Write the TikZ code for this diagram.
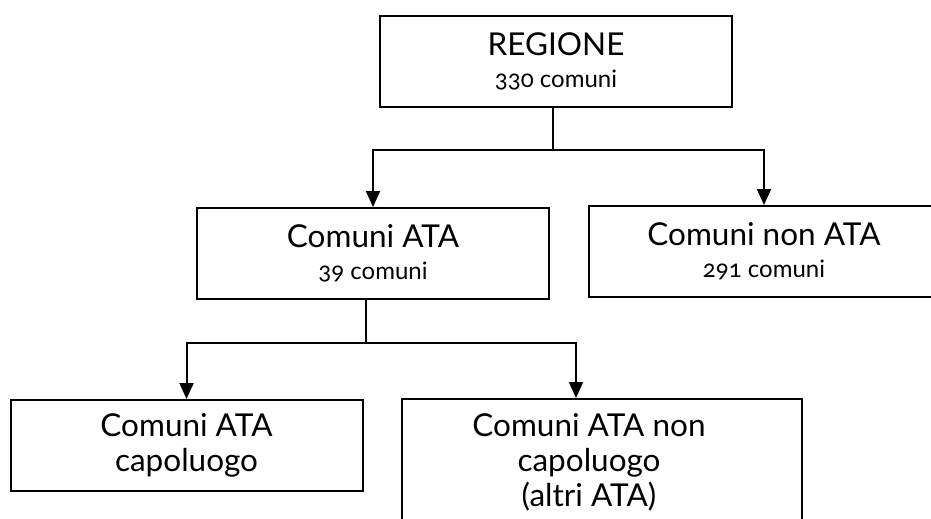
\documentclass[tikz,border=0pt]{standalone}
\usepackage{fontspec}
\setmainfont{Lato}[Numbers=OldStyle]
\usepackage{tikz}
\usetikzlibrary{arrows.meta}

\tikzset{
  box/.style={draw, line width=2pt, align=center, inner sep=0pt,
    minimum width=352pt, minimum height=91pt,
    font=\fontsize{31.5}{35}\selectfont},
  arr/.style={line width=2pt, -{Triangle[width=14pt,length=16pt]}}
}
\newcommand{\smalltxt}[1]{{\fontsize{24}{28}\selectfont #1}}

\begin{document}
\begin{tikzpicture}[x=1pt,y=-1pt]
  \useasboundingbox (0,0) rectangle (931,519);
  \clip (0,0) rectangle (931,519);
  % boxes
  \node[box] (reg) at (556,61.5) {REGIONE\\[-3pt]\smalltxt{330 comuni}};
  \node[box] (ata) at (373,253.5) {Comuni ATA\\[-3pt]\smalltxt{39 comuni}};
  \node[box, minimum width=350pt] (nonata) at (764,251.5) {Comuni non ATA\\[-3pt]\smalltxt{291 comuni}};
  \node[box] (capo) at (186.5,445.5) {Comuni ATA\\capoluogo};
  \node[box, minimum width=400pt, minimum height=150pt] (noncapo) at (602,474) {};
  \node[box, draw=none, minimum width=0pt, minimum height=0pt, anchor=north] (noncapotxt)
    at (589,413) {Comuni ATA non\\capoluogo\\(altri ATA)};
  % connectors
  \coordinate (j1) at (553,150);
  \coordinate (j2) at (366,343);
  \draw[line width=2pt] (reg.south -| j1) -- (j1);
  \draw[arr] (j1) -| (ata.north);
  \draw[arr] (j1) -| (nonata.north);
  \draw[line width=2pt] (ata.south -| j2) -- (j2);
  \draw[arr] (j2) -| (capo.north);
  \draw[arr] (j2) -| ([xshift=-26pt]noncapo.north);
\end{tikzpicture}
\end{document}
